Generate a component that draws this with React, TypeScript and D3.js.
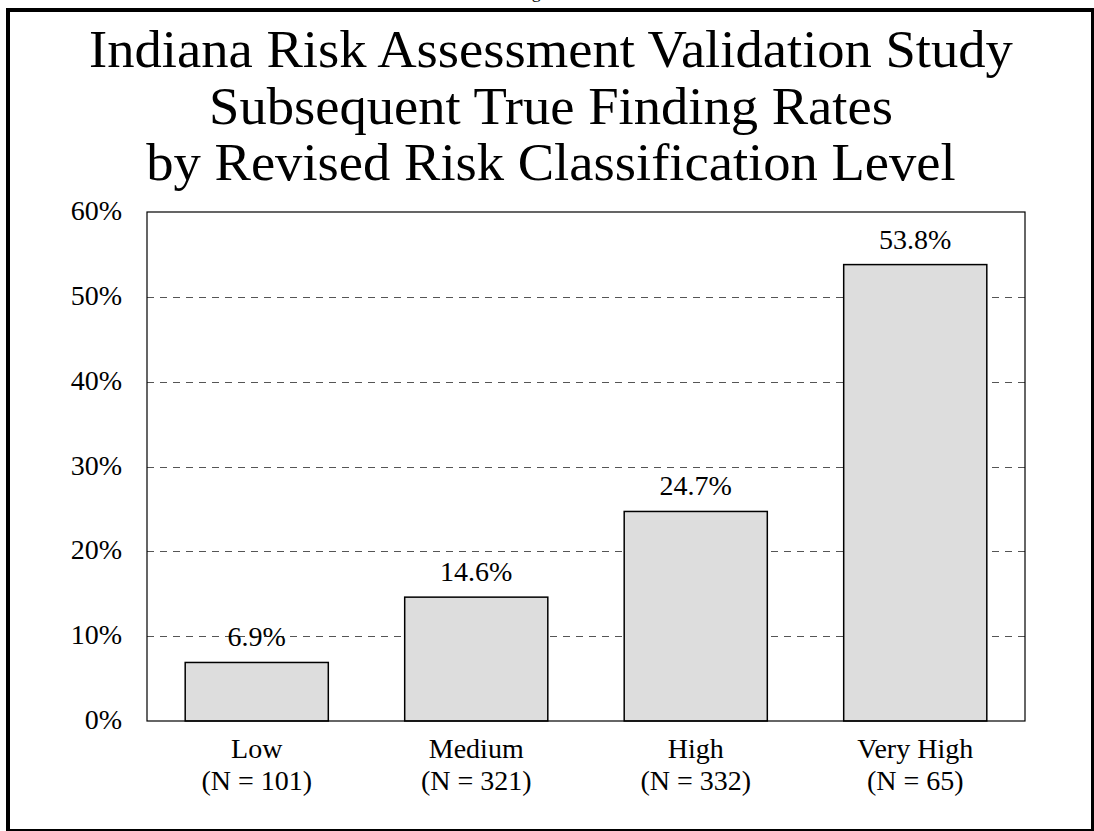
import React from "react";
import * as d3 from "d3";

const categories = ["Low", "Medium", "High", "Very High"];
const counts = ["(N = 101)", "(N = 321)", "(N = 332)", "(N = 65)"];
const rates = [6.9, 14.6, 24.7, 53.8];
const yTicks = [0, 10, 20, 30, 40, 50, 60];
const titleLines = [
  "Indiana Risk Assessment Validation Study",
  "Subsequent True Finding Rates",
  "by Revised Risk Classification Level",
];

const W = 1094;
const H = 831;
const FONT = "Liberation Serif, Times New Roman, Times, serif";
const ts = { fontFamily: FONT };

export default function App() {
  const plot = { left: 147, right: 1025, top: 212, bottom: 721 };
  const x = d3
    .scaleBand<string>()
    .domain(categories)
    .range([plot.left, plot.right])
    .paddingInner(0.348)
    .paddingOuter(0.174);
  const y = d3.scaleLinear().domain([0, 60]).range([plot.bottom, plot.top]);

  return (
    <svg
      width={W}
      height={H}
      style={{ position: "absolute", left: 0, top: 0, background: "#fff", fontFamily: FONT }}
    >
      <rect x={0} y={0} width={W} height={H} fill="#fff" />
      <text x={547} y={-2} fontSize={18} textAnchor="middle" fill="#000" style={ts}>
        Figure 1
      </text>
      <rect x={8} y={10} width={1085} height={821} fill="none" stroke="#000" strokeWidth={4} />

      <g transform="translate(551,0) scale(1.05,1)">
        {titleLines.map((t, i) => (
          <text key={t} x={0} y={67 + i * 56.7} fontSize={52} textAnchor="middle" fill="#000" style={ts}>
            {t}
          </text>
        ))}
      </g>

      {yTicks.filter((t) => t > 0 && t < 60).map((t) => (
        <line
          key={"g" + t}
          x1={plot.left}
          x2={plot.right}
          y1={Math.round(y(t)) + 0.5}
          y2={Math.round(y(t)) + 0.5}
          stroke="#555"
          strokeWidth={1}
          strokeDasharray="7,6"
        />
      ))}

      {categories.map((c, i) => (
        <rect
          key={"b" + c}
          x={x(c)!}
          y={y(rates[i])}
          width={x.bandwidth()}
          height={y(0) - y(rates[i])}
          fill="#dddddd"
          stroke="#000"
          strokeWidth={1.5}
        />
      ))}

      <rect
        x={plot.left}
        y={plot.top}
        width={plot.right - plot.left}
        height={plot.bottom - plot.top}
        fill="none"
        stroke="#000"
        strokeWidth={1.2}
      />

      {categories.map((c, i) => (
        <text
          key={"v" + c}
          x={x(c)! + x.bandwidth() / 2}
          y={y(rates[i]) - 16}
          fontSize={28}
          textAnchor="middle"
          fill="#000"
          style={ts}
        >
          {rates[i].toFixed(1) + "%"}
        </text>
      ))}

      {yTicks.map((t) => (
        <text key={"t" + t} x={122} y={y(t) + 8} fontSize={28} textAnchor="end" fill="#000" style={ts}>
          {t + "%"}
        </text>
      ))}

      {categories.map((c, i) => (
        <g key={"c" + c}>
          <text x={x(c)! + x.bandwidth() / 2} y={758} fontSize={28} textAnchor="middle" fill="#000" style={ts}>
            {c}
          </text>
          <text x={x(c)! + x.bandwidth() / 2} y={790} fontSize={28} textAnchor="middle" fill="#000" style={ts}>
            {counts[i]}
          </text>
        </g>
      ))}
    </svg>
  );
}
